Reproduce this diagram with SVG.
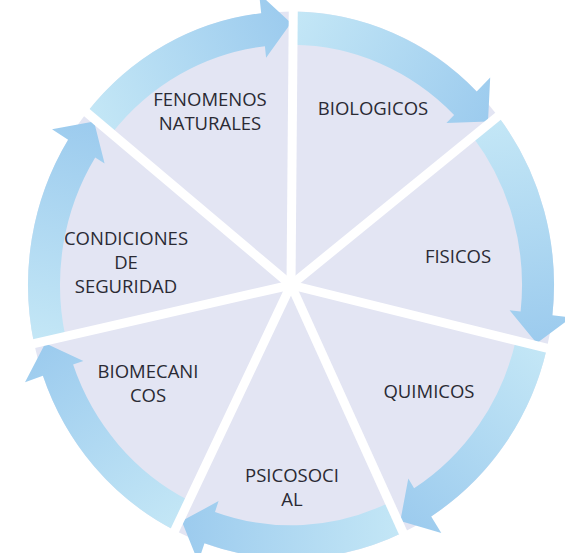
<svg xmlns="http://www.w3.org/2000/svg" width="565" height="553" viewBox="0 0 565 553">
<style>
.wedge{fill:#e3e5f3}
.arr{stroke:none}
.gap{stroke:#ffffff;stroke-width:9;stroke-linecap:butt}
.lbl{font-family:"Open Sans","Noto Sans","Liberation Sans",sans-serif;font-size:18.5px;fill:#2a2a34;text-anchor:middle}
</style>
<defs>
<linearGradient id="g0" gradientUnits="userSpaceOnUse" x1="293" y1="12" x2="488" y2="122"><stop offset="0" stop-color="#c4e7f6"/><stop offset="1" stop-color="#9ccbee"/></linearGradient>
<linearGradient id="g1" gradientUnits="userSpaceOnUse" x1="498" y1="116" x2="537" y2="343"><stop offset="0" stop-color="#c4e7f6"/><stop offset="1" stop-color="#9ccbee"/></linearGradient>
<linearGradient id="g2" gradientUnits="userSpaceOnUse" x1="547" y1="348" x2="400" y2="521"><stop offset="0" stop-color="#c4e7f6"/><stop offset="1" stop-color="#9ccbee"/></linearGradient>
<linearGradient id="g3" gradientUnits="userSpaceOnUse" x1="403" y1="532" x2="182" y2="521"><stop offset="0" stop-color="#c4e7f6"/><stop offset="1" stop-color="#9ccbee"/></linearGradient>
<linearGradient id="g4" gradientUnits="userSpaceOnUse" x1="175" y1="530" x2="45" y2="343"><stop offset="0" stop-color="#c4e7f6"/><stop offset="1" stop-color="#9ccbee"/></linearGradient>
<linearGradient id="g5" gradientUnits="userSpaceOnUse" x1="34" y1="343" x2="94" y2="122"><stop offset="0" stop-color="#c4e7f6"/><stop offset="1" stop-color="#9ccbee"/></linearGradient>
<linearGradient id="g6" gradientUnits="userSpaceOnUse" x1="87" y1="113" x2="291" y2="23"><stop offset="0" stop-color="#c4e7f6"/><stop offset="1" stop-color="#9ccbee"/></linearGradient>
</defs>
<rect width="565" height="553" fill="#ffffff"/>
<g id="node-biologicos">
<path class="wedge" d="M291,285 L293.3,11.5 A263,273.52 0 0 1 498.05,116.34 Z"/>
<text class="lbl" x="373" y="115">BIOLOGICOS</text>
</g>
<g id="node-fisicos">
<path class="wedge" d="M291,285 L498.05,116.34 A263,273.52 0 0 1 546.89,348.2 Z"/>
<text class="lbl" x="458" y="263">FISICOS</text>
</g>
<g id="node-quimicos">
<path class="wedge" d="M291,285 L546.89,348.2 A263,273.52 0 0 1 403.02,532.47 Z"/>
<text class="lbl" x="429" y="398">QUIMICOS</text>
</g>
<g id="node-psicosocial">
<path class="wedge" d="M291,285 L403.02,532.47 A263,273.52 0 0 1 174.85,530.4 Z"/>
<text class="lbl" x="292" y="482">PSICOSOCI</text>
<text class="lbl" x="292" y="506">AL</text>
</g>
<g id="node-biomecanicos">
<path class="wedge" d="M291,285 L174.85,530.4 A263,273.52 0 0 1 34.1,343.55 Z"/>
<text class="lbl" x="148" y="378">BIOMECANI</text>
<text class="lbl" x="148" y="402">COS</text>
</g>
<g id="node-condiciones">
<path class="wedge" d="M291,285 L34.1,343.55 A263,273.52 0 0 1 86.81,112.61 Z"/>
<text class="lbl" x="126" y="245">CONDICIONES</text>
<text class="lbl" x="126" y="269">DE</text>
<text class="lbl" x="126" y="293">SEGURIDAD</text>
</g>
<g id="node-fenomenos">
<path class="wedge" d="M291,285 L86.81,112.61 A263,273.52 0 0 1 293.3,11.5 Z"/>
<text class="lbl" x="210" y="106">FENOMENOS</text>
<text class="lbl" x="210" y="130">NATURALES</text>
</g>
<g id="connectors">
<path class="arr" fill="url(#g0)" d="M293.3,11.5 A263,273.52 0 0 1 476.7,91.4 L490.2,77.4 L488,121.6 L446.4,123 L454.1,114.9 A231,240.24 0 0 0 293,44.8 Z"/>
<path class="arr" fill="url(#g1)" d="M498.1,116.3 A263,273.52 0 0 1 552.4,315.3 L571.3,317.5 L536.7,343.3 L509.6,310.3 L520.6,311.6 A231,240.24 0 0 0 472.9,136.9 Z"/>
<path class="arr" fill="url(#g2)" d="M546.9,348.2 A263,273.52 0 0 1 431.2,516.4 L441.3,533.1 L400.3,521.1 L408.3,478.6 L414.1,488.3 A231,240.24 0 0 0 515.8,340.5 Z"/>
<path class="arr" fill="url(#g3)" d="M403,532.5 A263,273.52 0 0 1 204.5,543.3 L198.2,562 L181.7,521.1 L218.6,501.1 L215,511.9 A231,240.24 0 0 0 389.4,502.4 Z"/>
<path class="arr" fill="url(#g4)" d="M174.8,530.4 A263,273.52 0 0 1 42.9,375.7 L25,382.2 L45.3,343.3 L83.4,360.9 L73.1,364.6 A231,240.24 0 0 0 189,500.5 Z"/>
<path class="arr" fill="url(#g5)" d="M34.1,343.5 A263,273.52 0 0 1 68.1,139.8 L52,129.3 L94,121.6 L104.6,163.5 L95.2,157.4 A231,240.24 0 0 0 65.4,336.4 Z"/>
<path class="arr" fill="url(#g6)" d="M86.8,112.6 A263,273.52 0 0 1 261.2,13.2 L259.1,-6.4 L291,22.9 L266.1,57.7 L264.9,46.3 A231,240.24 0 0 0 111.7,133.6 Z"/>
</g>
<g id="gaps">
<line class="gap" x1="291" y1="285" x2="293.6" y2="-29.5"/>
<line class="gap" x1="291" y1="285" x2="529.1" y2="91"/>
<line class="gap" x1="291" y1="285" x2="585.3" y2="357.7"/>
<line class="gap" x1="291" y1="285" x2="419.8" y2="569.6"/>
<line class="gap" x1="291" y1="285" x2="157.4" y2="567.2"/>
<line class="gap" x1="291" y1="285" x2="-4.4" y2="352.3"/>
<line class="gap" x1="291" y1="285" x2="56.2" y2="86.8"/>
</g>
</svg>
